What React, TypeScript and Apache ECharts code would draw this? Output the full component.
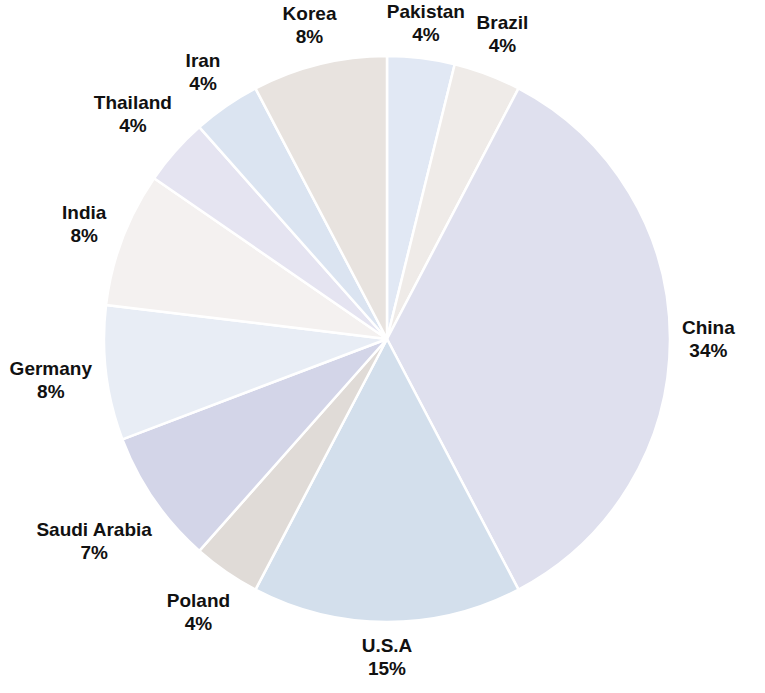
import React, { useEffect, useRef } from "react";
import * as echarts from "echarts";

// Clockwise from 12 o'clock
const countries = ["Pakistan", "Brazil", "China", "U.S.A", "Poland", "Saudi Arabia", "Germany", "India", "Thailand", "Iran", "Korea"];
const counts = [1, 1, 9, 4, 1, 2, 2, 2, 1, 1, 2];
const percentLabels = ["4%", "4%", "34%", "15%", "4%", "7%", "8%", "8%", "4%", "4%", "8%"];
const sliceColors = ["#e1e8f4", "#efebe8", "#dfe0ee", "#d3dfec", "#e0dbd7", "#d3d5e8", "#e8edf5", "#f4f1f0", "#e5e4f1", "#dbe4f1", "#e8e3df"];

const CX = 387;
const CY = 339;
const R = 283;

export default function App() {
  const ref = useRef<HTMLDivElement>(null);
  useEffect(() => {
    document.body.style.margin = "0";
    if (!ref.current) return;
    const chart = echarts.init(ref.current, null, { renderer: "svg" });
    const total = counts.reduce((a, b) => a + b, 0);
    const mids: number[] = [];
    let acc = 0;
    counts.forEach((c) => {
      mids.push(((acc + c / 2) / total) * 2 * Math.PI);
      acc += c;
    });
    chart.setOption({
      animation: false,
      backgroundColor: "#ffffff",
      series: [
        {
          type: "pie",
          center: [CX, CY],
          radius: R,
          startAngle: 90,
          clockwise: true,
          avoidLabelOverlap: false,
          data: countries.map((n, i) => ({
            name: n,
            value: counts[i],
            itemStyle: { color: sliceColors[i] },
          })),
          itemStyle: { borderColor: "#ffffff", borderWidth: 2.5 },
          label: {
            show: true,
            position: "outside",
            formatter: (p: any) => `${p.name}\n${percentLabels[p.dataIndex]}`,
            fontFamily: "'Liberation Sans', Arial, sans-serif",
            fontWeight: "bold",
            fontSize: 19,
            lineHeight: 23,
            color: "#111111",
            align: "center",
          },
          labelLine: { show: false },
          emphasis: { disabled: true },
          labelLayout: (p: any) => {
            const th = mids[p.dataIndex];
            const w = p.labelRect.width;
            const h = p.labelRect.height;
            const s = Math.sin(th);
            const c = Math.cos(th);
            const ext = (Math.abs(s) * w) / 2 + (Math.abs(c) * h) / 2;
            const d = R + 12 + ext;
            return {
              x: CX + d * s,
              y: Math.max(CY - d * c, h / 2),
              align: "center",
              verticalAlign: "middle",
            };
          },
        },
      ],
    });
    return () => chart.dispose();
  }, []);
  return <div ref={ref} style={{ position: "absolute", left: 0, top: 0, width: 765, height: 693 }} />;
}
